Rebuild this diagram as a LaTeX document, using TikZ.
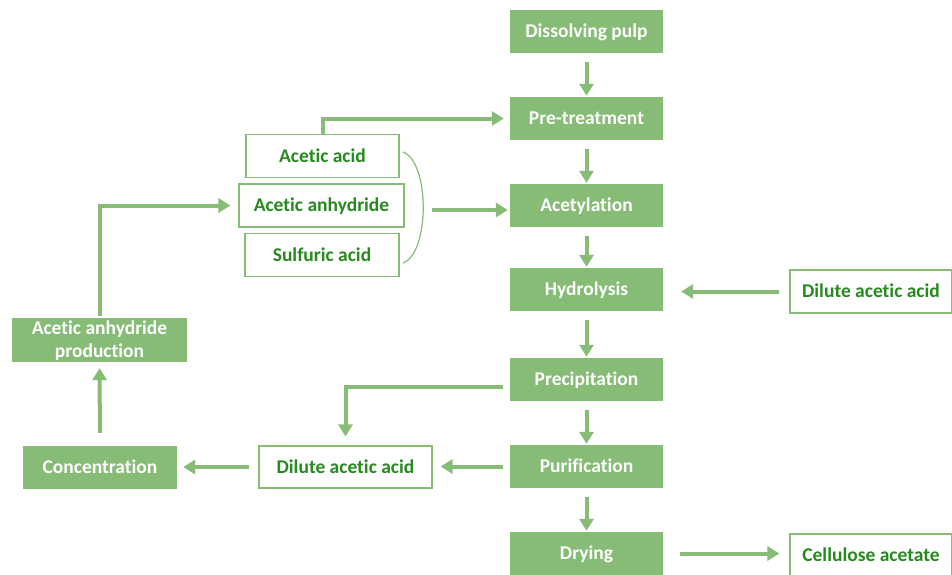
\documentclass[tikz,border=0pt]{standalone}
\usepackage{fontspec}
\setmainfont{Carlito}[Ligatures={NoCommon}]
\usetikzlibrary{positioning,arrows.meta}

\definecolor{leaf}{RGB}{134,188,118}
\definecolor{darkleaf}{RGB}{38,138,30}

\tikzset{
  stage/.style={rectangle, fill=leaf, text=white, font=\fontsize{19.5}{23}\selectfont\bfseries,
    minimum width=153pt, minimum height=43pt, inner sep=0pt, align=center, text depth=1pt},
  input/.style={rectangle, draw=leaf, line width=1.2pt, fill=white, text=darkleaf,
    font=\fontsize{19.5}{23}\selectfont\bfseries, minimum height=43pt, inner sep=0pt, align=center, text depth=1pt},
  flow/.style={draw=leaf, line width=4pt, -{Triangle[length=12pt,width=14pt]}},
}

\begin{document}
\begin{tikzpicture}[x=1pt, y=-1pt, node distance=87pt, on grid]
    \useasboundingbox (0,0) rectangle (952,574);
    \clip (0,0) rectangle (952,574);

    % main process column
    \node[stage] (pulp) at (586.5,31.5) {Dissolving pulp};
    \node[stage, below=of pulp] (pre) {Pre-treatment};
    \node[stage, below=of pre] (acet) {Acetylation};
    \node[stage, below=84pt of acet] (hydro) {Hydrolysis};
    \node[stage, below=90pt of hydro] (prec) {Precipitation};
    \node[stage, below=of prec] (puri) {Purification};
    \node[stage, below=of puri] (dry) {Drying};

    % reagents
    \node[input, minimum width=153pt] (acid) at (322.5,156) {Acetic acid};
    \node[input, minimum width=165pt] (anh) at (321.5,205.5) {Acetic anhydride};
    \node[input, minimum width=154pt] (sulf) at (322,255) {Sulfuric acid};
    \draw[leaf, line width=1.2pt] (403,152) .. controls (430,162) and (430,253) .. (403,263);
    \coordinate (brace) at (432,210);

    % recovery loop
    \node[input, minimum width=162pt] (dilr) at (871,291.5) {Dilute acetic acid};
    \node[input, minimum width=173pt, minimum height=42pt] (dill) at (345.5,467) {Dilute acetic acid};
    \node[stage, minimum width=154pt] (conc) at (100,467.5) {Concentration};
    \node[stage, minimum width=175pt, minimum height=44pt] (aap) at (99.5,340) {Acetic anhydride\\production};
    \node[input, minimum width=162pt] (cell) at (871,555.5) {Cellulose acetate};

    \draw[flow, shorten <=9pt, shorten >=1pt] (pulp) -- (pre);
    \draw[flow, shorten <=9pt, shorten >=1pt] (pre) -- (acet);
    \draw[flow, shorten <=9pt, shorten >=1pt] (acet) -- (hydro);
    \draw[flow, shorten <=9pt, shorten >=1pt] (hydro) -- (prec);
    \draw[flow, shorten <=9pt, shorten >=1pt] (prec) -- (puri);
    \draw[flow, shorten <=9pt, shorten >=1pt] (puri) -- (dry);

    \draw[flow, shorten >=6pt] (acid.north) |- (pre.west);
    \draw[flow, shorten >=2pt] (brace) -- (brace -| acet.west);
    \draw[flow, shorten <=10pt, shorten >=18pt] (dilr.west) -- (dilr.west -| hydro.east);
    \draw[flow, shorten <=17pt, shorten >=10pt] (dry.east) -- (dry.east -| cell.west);
    \draw[flow, shorten <=7pt, shorten >=9pt] ([yshift=-7pt]prec.west) -| (dill.north);
    \draw[flow, shorten <=7pt, shorten >=8pt] (puri.west) -- (puri.west -| dill.east);
    \draw[flow, shorten <=9pt, shorten >=6pt] (dill.west) -- (dill.west -| conc.east);
    \draw[flow, shorten <=13pt, shorten >=6pt] (conc.north) -- (aap.south);
    \draw[flow, shorten <=2pt, shorten >=8pt] (aap.north) |- (anh.west);
\end{tikzpicture}
\end{document}
